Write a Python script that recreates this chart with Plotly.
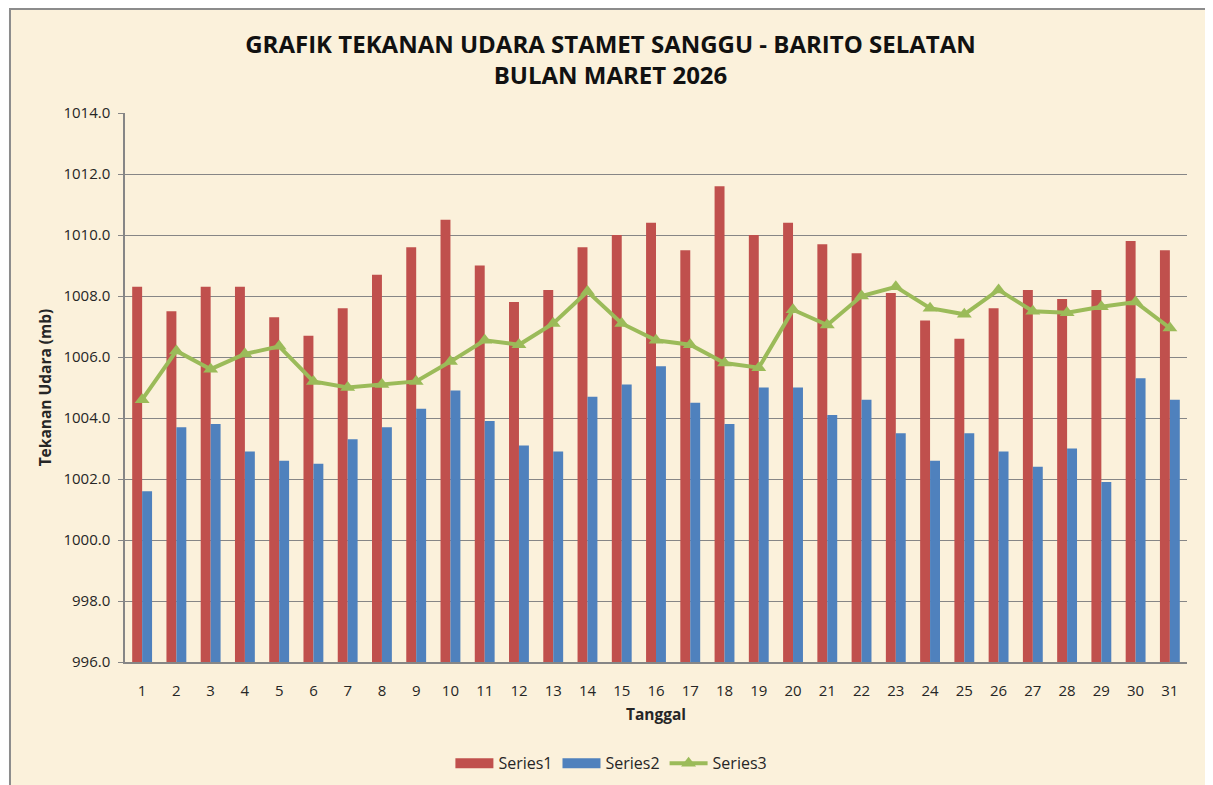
import plotly.graph_objects as go

days = [str(i) for i in range(1, 32)]
series1 = [1008.3, 1007.5, 1008.3, 1008.3, 1007.3, 1006.7, 1007.6, 1008.7, 1009.6, 1010.5,
           1009.0, 1007.8, 1008.2, 1009.6, 1010.0, 1010.4, 1009.5, 1011.6, 1010.0, 1010.4,
           1009.7, 1009.4, 1008.1, 1007.2, 1006.6, 1007.6, 1008.2, 1007.9, 1008.2, 1009.8, 1009.5]
series2 = [1001.6, 1003.7, 1003.8, 1002.9, 1002.6, 1002.5, 1003.3, 1003.7, 1004.3, 1004.9,
           1003.9, 1003.1, 1002.9, 1004.7, 1005.1, 1005.7, 1004.5, 1003.8, 1005.0, 1005.0,
           1004.1, 1004.6, 1003.5, 1002.6, 1003.5, 1002.9, 1002.4, 1003.0, 1001.9, 1005.3, 1004.6]
series3 = [1004.6, 1006.2, 1005.6, 1006.1, 1006.35, 1005.2, 1005.0, 1005.1, 1005.2, 1005.85,
           1006.55, 1006.4, 1007.1, 1008.15, 1007.1, 1006.55, 1006.4, 1005.8, 1005.65, 1007.55,
           1007.05, 1008.0, 1008.3, 1007.6, 1007.4, 1008.2, 1007.5, 1007.45, 1007.65, 1007.8, 1006.95]
y_ticks = [996 + 2 * i for i in range(10)]
BASE = 996

FONT = "Open Sans"
BG = "#FBF1DB"
RED, BLUE, GREEN = "#C0504D", "#4F81BD", "#9BBB59"

fig = go.Figure()
fig.add_trace(go.Bar(x=days, y=[v - BASE for v in series1], base=BASE, name="Series1",
                     marker_color=RED, marker_line_width=0, showlegend=False,
                     legendgroup="s1", hovertext=series1))
fig.add_trace(go.Bar(x=days, y=[v - BASE for v in series2], base=BASE, name="Series2",
                     marker_color=BLUE, marker_line_width=0, showlegend=False,
                     legendgroup="s2", hovertext=series2))
# legend entries with wide rectangular swatches like the original
fig.add_trace(go.Scatter(x=[None], y=[None], mode="lines", name="Series1", legendgroup="s1",
                         line=dict(color=RED, width=10)))
fig.add_trace(go.Scatter(x=[None], y=[None], mode="lines", name="Series2", legendgroup="s2",
                         line=dict(color=BLUE, width=10)))
fig.add_trace(go.Scatter(x=days, y=series3, name="Series3", mode="lines+markers",
                         line=dict(color=GREEN, width=4),
                         marker=dict(symbol="triangle-up", size=13, color=GREEN)))

fig.update_layout(
    width=1205, height=777,
    paper_bgcolor="white", plot_bgcolor=BG,
    margin=dict(l=117, r=26, t=105, b=123),
    barmode="group", bargap=0.42, bargroupgap=0,
    font=dict(family=FONT, size=15, color="#262626"),
    title=dict(text="<b>GRAFIK TEKANAN UDARA STAMET SANGGU - BARITO SELATAN<br>BULAN MARET 2026</b>",
               x=0.5, xanchor="center", y=0.942, yanchor="top",
               font=dict(family=FONT, size=24, color="#111")),
    xaxis=dict(title=dict(text="<b>Tanggal</b>", font=dict(size=15.5), standoff=10),
               range=[-0.5, 30.5], automargin=False,
               showline=True, linecolor="#868686", linewidth=1.5,
               ticks="", tickfont=dict(size=15), ticklabelstandoff=14, showgrid=False),
    yaxis=dict(title=dict(text="<b>Tekanan Udara (mb)</b>", font=dict(size=15.5), standoff=8),
               range=[996, 1014], tickvals=y_ticks, automargin=False,
               ticktext=[f"{v:.1f}" for v in y_ticks],
               showline=True, linecolor="#868686", linewidth=1.5,
               ticks="outside", ticklen=5, tickcolor="#868686", ticklabelstandoff=5,
               showgrid=True, gridcolor="#868686", gridwidth=1.2,
               tickfont=dict(size=15), zeroline=False),
    legend=dict(orientation="h", x=0.458, xanchor="center",
                yref="container", y=0.028, yanchor="middle",
                font=dict(size=16), bgcolor="rgba(0,0,0,0)", traceorder="normal",
                itemwidth=38),
    shapes=[dict(type="rect", xref="paper", yref="paper",
                 x0=-0.1083, x1=1.0188, y0=-0.3, y1=1.1894,
                 fillcolor=BG, line=dict(color="#8C8C8C", width=2), layer="below")],
)

fig.write_html("out.html")
